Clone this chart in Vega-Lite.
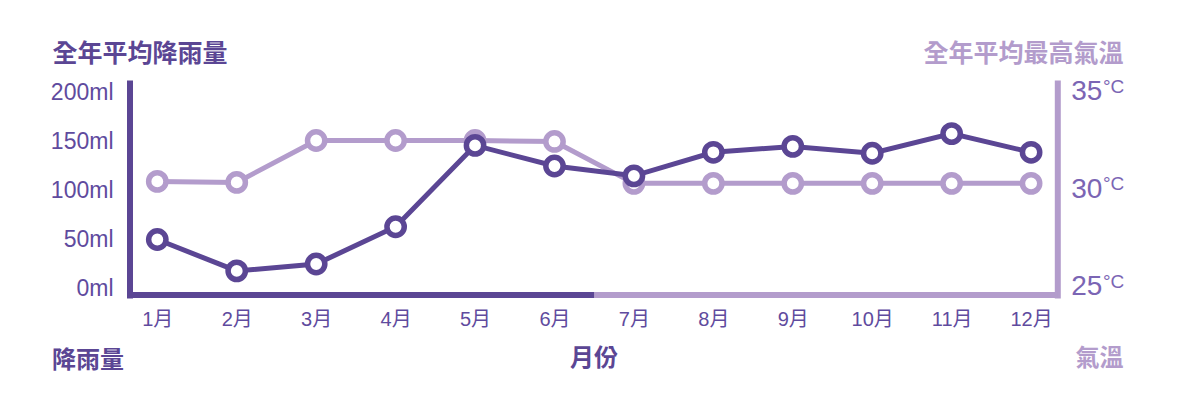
{
  "$schema": "https://vega.github.io/schema/vega-lite/v6.json",
  "width": 927.8,
  "height": 212,
  "autosize": {"type": "none"},
  "padding": {"left": 129.5, "top": 83, "right": 142.7, "bottom": 105},
  "background": "white",
  "config": {"view": {"stroke": null}, "axis": {"grid": false}},
  "title": {
    "text": "降雨量",
    "orient": "bottom",
    "anchor": "start",
    "frame": "group",
    "dx": -77.5,
    "dy": -25,
    "font": "Noto Sans CJK TC",
    "fontWeight": "bold",
    "fontSize": 24,
    "color": "#5b4694"
  },
  "datasets": {
    "monthly": [
      {"month": 1, "rain": 50, "temp": 30.4},
      {"month": 2, "rain": 18, "temp": 30.35},
      {"month": 3, "rain": 25, "temp": 32.5},
      {"month": 4, "rain": 63, "temp": 32.5},
      {"month": 5, "rain": 146, "temp": 32.5},
      {"month": 6, "rain": 125, "temp": 32.45},
      {"month": 7, "rain": 115, "temp": 30.3},
      {"month": 8, "rain": 139, "temp": 30.3},
      {"month": 9, "rain": 145, "temp": 30.3},
      {"month": 10, "rain": 138, "temp": 30.3},
      {"month": 11, "rain": 158, "temp": 30.3},
      {"month": 12, "rain": 139, "temp": 30.3}
    ]
  },
  "layer": [
    {
      "layer": [
        {
          "data": {"values": [{"start": 6.5, "end": 12.33}]},
          "mark": {"type": "rule", "strokeWidth": 6, "strokeCap": "butt", "color": "#b39ccc"},
          "encoding": {
            "x": {
              "field": "start", "type": "quantitative",
              "scale": {"domain": [0.65, 12.33], "nice": false, "zero": false},
              "axis": {
                "orient": "bottom", "labels": false, "ticks": false, "domain": false, "grid": false,
                "title": "氣溫", "titleX": 993.5, "titleY": 63, "titleAlign": "right", "titleBaseline": "middle",
                "titleFont": "Noto Sans CJK TC", "titleFontWeight": "bold", "titleFontSize": 24, "titleColor": "#b39ccc"
              }
            },
            "x2": {"field": "end"},
            "y": {
              "datum": 24.57, "type": "quantitative",
              "scale": {"domain": [24.57, 35.45], "nice": false, "zero": false},
              "axis": {
                "orient": "right", "values": [25, 30, 35], "grid": false, "ticks": false, "tickSize": 0,
                "domain": true, "domainColor": "#b39ccc", "domainWidth": 6, "domainCap": "square",
                "labelFont": "Liberation Sans", "labelFontSize": 28, "labelColor": "#7b65b4", "labelPadding": 13.4,
                "title": "全年平均最高氣溫", "titleAngle": 0, "titleX": 65.7, "titleY": -30, "titleAlign": "right",
                "titleBaseline": "middle", "titleFont": "Noto Sans CJK TC", "titleFontWeight": "bold",
                "titleFontSize": 25, "titleColor": "#b39ccc"
              }
            }
          }
        },
        {
          "data": {"name": "monthly"},
          "mark": {"type": "line", "color": "#b39ccc", "strokeWidth": 5},
          "encoding": {
            "x": {"field": "month", "type": "quantitative"},
            "y": {"field": "temp", "type": "quantitative"}
          }
        },
        {
          "data": {"name": "monthly"},
          "mark": {"type": "point", "shape": "circle", "filled": true, "fill": "white", "stroke": "#b39ccc", "strokeWidth": 5.5, "size": 300, "opacity": 1},
          "encoding": {
            "x": {"field": "month", "type": "quantitative"},
            "y": {"field": "temp", "type": "quantitative"}
          }
        },
        {
          "data": {"values": [{"t": 25}, {"t": 30}, {"t": 35}]},
          "mark": {"type": "text", "text": "°C", "align": "left", "baseline": "alphabetic", "dx": 45.7, "dy": 1, "font": "Liberation Sans", "fontSize": 19, "color": "#7b65b4"},
          "encoding": {
            "x": {"datum": 12.33, "type": "quantitative"},
            "y": {"field": "t", "type": "quantitative"}
          }
        }
      ]
    },
    {
      "layer": [
        {
          "data": {"values": [{"start": 0.65, "end": 6.5}]},
          "mark": {"type": "rule", "strokeWidth": 6, "strokeCap": "butt", "color": "#5b4694"},
          "encoding": {
            "x": {
              "field": "start", "type": "quantitative",
              "scale": {"domain": [0.65, 12.33], "nice": false, "zero": false},
              "axis": {
                "orient": "bottom", "values": [1, 2, 3, 4, 5, 6, 7, 8, 9, 10, 11, 12],
                "labelExpr": "datum.value + '月'", "ticks": false, "tickSize": 0, "domain": false, "grid": false,
                "labelFont": "Liberation Sans, Noto Sans CJK TC", "labelFontSize": 20, "labelColor": "#5f4b9e", "labelPadding": 14,
                "labelFlush": false,
                "title": "月份", "titleY": 63, "titleBaseline": "middle",
                "titleFont": "Noto Sans CJK TC", "titleFontWeight": "bold", "titleFontSize": 24, "titleColor": "#5b4694"
              }
            },
            "x2": {"field": "end"},
            "y": {
              "datum": -6.6, "type": "quantitative",
              "scale": {"domain": [-6.6, 209.7], "nice": false, "zero": false},
              "axis": {
                "orient": "left", "values": [0, 50, 100, 150, 200], "labelExpr": "datum.value + 'ml'",
                "grid": false, "ticks": false, "tickSize": 0,
                "domain": true, "domainColor": "#5b4694", "domainWidth": 6, "domainCap": "square",
                "labelFont": "Liberation Sans", "labelFontSize": 23, "labelColor": "#5f4b9e", "labelPadding": 16.5,
                "title": "全年平均降雨量", "titleAngle": 0, "titleX": -77.5, "titleY": -30, "titleAlign": "left",
                "titleBaseline": "middle", "titleFont": "Noto Sans CJK TC", "titleFontWeight": "bold",
                "titleFontSize": 25, "titleColor": "#5b4694"
              }
            }
          }
        },
        {
          "data": {"name": "monthly"},
          "mark": {"type": "line", "color": "#5b4694", "strokeWidth": 5},
          "encoding": {
            "x": {"field": "month", "type": "quantitative"},
            "y": {"field": "rain", "type": "quantitative"}
          }
        },
        {
          "data": {"name": "monthly"},
          "mark": {"type": "point", "shape": "circle", "filled": true, "fill": "white", "stroke": "#5b4694", "strokeWidth": 5.5, "size": 300, "opacity": 1},
          "encoding": {
            "x": {"field": "month", "type": "quantitative"},
            "y": {"field": "rain", "type": "quantitative"}
          }
        }
      ]
    }
  ],
  "resolve": {"scale": {"x": "independent", "y": "independent"}}
}
